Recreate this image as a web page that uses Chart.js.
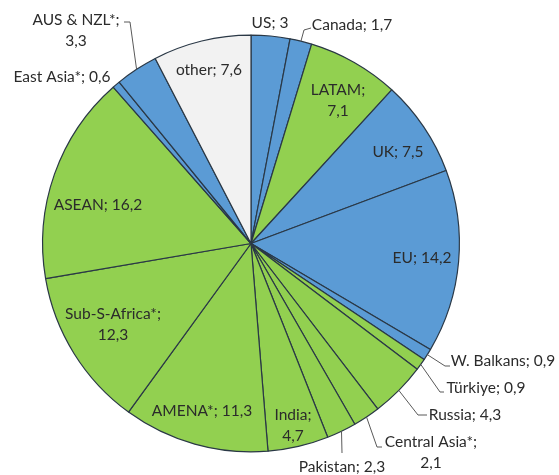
<!DOCTYPE html>
<html>
<head>
<meta charset="utf-8">
<script src="https://cdn.jsdelivr.net/npm/chart.js@4.4.0/dist/chart.umd.min.js"></script>
<style>
    html, body { margin: 0; padding: 0; background: #fff; }
    #wrap { width: 559px; height: 475px; }
</style>
</head>
<body>
<div id="wrap"><canvas id="chartCanvas"></canvas></div>
<script>
// données (sens horaire depuis midi)
const regions = ['US', 'Canada', 'LATAM', 'UK', 'EU', 'W. Balkans', 'Türkiye', 'Russia',
    'Central Asia*', 'Pakistan', 'India', 'AMENA*', 'Sub-S-Africa*', 'ASEAN',
    'East Asia*', 'AUS & NZL*', 'other'];
const parts = [3, 1.7, 7.1, 7.5, 14.2, 0.9, 0.9, 4.3, 2.1, 2.3, 4.7, 11.3, 12.3, 16.2, 0.6, 3.3, 7.6];
const groupe = ['b', 'b', 'g', 'b', 'b', 'b', 'g', 'g', 'g', 'g', 'g', 'g', 'g', 'g', 'b', 'b', 'o'];

const couleurs = { b: '#5b9bd5', g: '#92d050', o: '#f2f2f2' };

// placement des étiquettes : lignes de texte, position, et trait de rappel éventuel
// leader : [x,y] des coudes après le point du bord de la part
const etiquettes = [
    { lines: ['US; 3'], x: 270, y: 23 },
    { lines: ['Canada; 1,7'], x: 352, y: 25, leader: [[304, 30], [311, 28]] },
    { lines: ['LATAM;', '7,1'], x: 338, y: 100 },
    { lines: ['UK; 7,5'], x: 398, y: 152 },
    { lines: ['EU; 14,2'], x: 422, y: 258 },
    { lines: ['W. Balkans; 0,9'], x: 503, y: 361, leader: [[445, 366], [450, 366]] },
    { lines: ['Türkiye; 0,9'], x: 486, y: 388, leader: [[440, 392], [444, 392]] },
    { lines: ['Russia; 4,3'], x: 465, y: 415, leader: [[418, 415], [427, 415]] },
    { lines: ['Central Asia*;', '2,1'], x: 431, y: 452, leader: [[377, 447], [382, 447]] },
    { lines: ['Pakistan; 2,3'], x: 342, y: 467, leader: [[342, 453]] },
    { lines: ['India;', '4,7'], x: 293, y: 425 },
    { lines: ['AMENA*; 11,3'], x: 202, y: 411 },
    { lines: ['Sub-S-Africa*;', '12,3'], x: 113, y: 324 },
    { lines: ['ASEAN; 16,2'], x: 98, y: 205 },
    { lines: ['East Asia*; 0,6'], x: 62, y: 77 },
    { lines: ['AUS & NZL*;', '3,3'], x: 76, y: 30, leader: [[130, 22], [124, 22]] },
    { lines: ['other; 7,6'], x: 209, y: 70 }
];

const pluginEtiquettes = {
    id: 'etiquettes',
    afterDatasetsDraw(chart) {
        const ctx = chart.ctx;
        const arcs = chart.getDatasetMeta(0).data;
        ctx.save();
        ctx.font = '15.5px Lato';
        ctx.textAlign = 'center';
        ctx.textBaseline = 'middle';
        etiquettes.forEach((e, i) => {
            const arc = arcs[i];
            if (e.leader) {
                // départ du trait sur le bord de la part
                const a = (arc.startAngle + arc.endAngle) / 2;
                const px = arc.x + Math.cos(a) * arc.outerRadius;
                const py = arc.y + Math.sin(a) * arc.outerRadius;
                ctx.strokeStyle = '#595959';
                ctx.lineWidth = 1;
                ctx.beginPath();
                ctx.moveTo(px, py);
                e.leader.forEach(p => ctx.lineTo(p[0], p[1]));
                ctx.stroke();
            }
            ctx.fillStyle = '#2b2b2b';
            const h = 21;
            const y0 = e.y - (e.lines.length - 1) * h / 2;
            e.lines.forEach((l, k) => ctx.fillText(l, e.x, y0 + k * h));
        });
        ctx.restore();
    }
};

function displayChart() {
    const ctx = document.getElementById('chartCanvas').getContext('2d');
    window.myChart = new Chart(ctx, {
        type: 'pie',
        data: {
            labels: regions,
            datasets: [{
                data: parts,
                backgroundColor: groupe.map(g => couleurs[g]),
                borderColor: '#2a3846',
                borderWidth: 1.2
            }]
        },
        options: {
            responsive: true,
            maintainAspectRatio: false,
            animation: false,
            layout: { padding: { left: 42, right: 99, top: 34.5, bottom: 22.5 } },
            plugins: {
                legend: { display: false },
                tooltip: { enabled: false }
            }
        },
        plugins: [pluginEtiquettes]
    });
}

displayChart();
</script>
</body>
</html>
